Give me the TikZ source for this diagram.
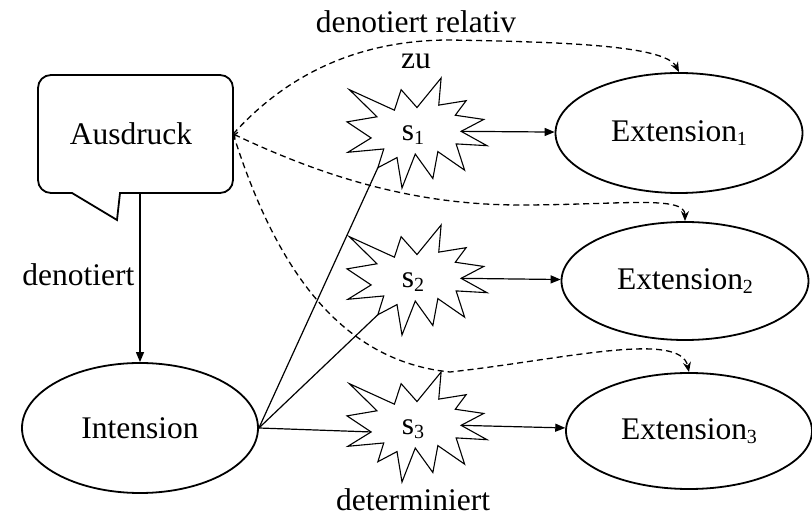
\documentclass[tikz,border=0pt]{standalone}
\usepackage{fontspec}
\setmainfont{Liberation Serif}
\usetikzlibrary{arrows.meta,shapes.geometric}
\newcommand\subsc[1]{\raisebox{-4pt}{\fontsize{20}{20}\selectfont #1}}
\newcommand\explosion[3]{%
  \begin{scope}[shift={(#2,#3)}, x=0.64815pt, y=-0.50926pt]
    \draw[starline] (108,58) -- (145.22,0) -- (141.55,53.25) -- (183.80,44.57) -- (167.02,73.15)
      -- (210.97,81.37) -- (176.07,104.75) -- (216,132.90) -- (168.37,129.42) -- (181.45,180.95)
      -- (140.20,144.57) -- (132.47,197.37) -- (105.32,149.35) -- (84.85,216) -- (77.15,156.27)
      -- (47.62,176.17) -- (56.67,139.37) -- (1.35,145.87) -- (37.22,117.75) -- (0,86.15)
      -- (46.27,76.17) -- (3.70,22.95) -- (73.12,63.20) -- (83.52,22.95) -- cycle;
    \coordinate (#1-in) at (47.62,176.17);
    \coordinate (#1-low) at (37.22,117.75);
    \coordinate (#1-out) at (176.07,104.75);
  \end{scope}}
\begin{document}
\begin{tikzpicture}[x=1pt,y=-1pt,
  txt/.style={font=\fontsize{31.5}{36}\selectfont, inner sep=0pt},
  ell/.style={ellipse, draw, line width=1.8pt, fill=white, inner sep=0pt, txt},
  conn/.style={line width=1.2pt, -{Triangle[length=10pt,width=8pt]}},
  plainconn/.style={line width=1.2pt},
  dconn/.style={line width=1.3pt, dash pattern=on 6pt off 4pt, -{Stealth[length=10pt,width=8pt]}},
  starline/.style={line width=1.1pt, fill=white}]

\useasboundingbox (0,0) rectangle (812,518);

% callout
\draw[line width=1.8pt, fill=white] (72,193) -- (51,193) .. controls (43.8,193) and (38,187.2) .. (38,180)
  -- (38,88) .. controls (38,80.8) and (43.8,75) .. (51,75)
  -- (220,75) .. controls (227.2,75) and (233,80.8) .. (233,88)
  -- (233,180) .. controls (233,187.2) and (227.2,193) .. (220,193)
  -- (120,193) -- (117,220) -- cycle;
\node[rectangle, inner sep=0pt, minimum width=195pt, minimum height=118pt] (aus) at (135.5,134) {};
\node[txt] (austxt) at (131,134) {Ausdruck};

% ellipses
\node[ell, minimum width=236pt, minimum height=130pt] (int) at (140,428) {Intension};
\node[ell, minimum width=247pt, minimum height=120pt] (e1) at (679,133) {Extension\subsc{1}};
\node[ell, minimum width=247pt, minimum height=118pt] (e2) at (685,281) {Extension\subsc{2}};
\node[ell, minimum width=246pt, minimum height=116pt] (e3) at (689,431) {Extension\subsc{3}};

% explosions
\explosion{s1}{347}{78}
\explosion{s2}{347}{225}
\explosion{s3}{347}{372}
\node[txt] (s1) at (413,135) {s\subsc{1}};
\node[txt] (s2) at (413,282) {s\subsc{2}};
\node[txt] (s3) at (413,429) {s\subsc{3}};

% labels
\node[txt, align=center] (lab) at (416,40) {denotiert relativ\\zu};
\node[txt] (det) at (413,500) {determiniert};

% connectors
\draw[conn] (int.north |- aus.south) -- (int.north)
  node[midway, left, txt, xshift=-5pt, yshift=3pt] (den) {denotiert};
\draw[plainconn] (int.east) -- (s1-in);
\draw[plainconn] (int.east) -- (s2-in);
\draw[plainconn] (int.east) -- (s3-low);
\draw[conn] (s1-out) -- (e1);
\draw[conn] (s2-out) -- (e2);
\draw[conn] (s3-out) -- (e3);

\draw[dconn] (aus.east) .. controls (300,60) and (380,40) .. (450,40)
  .. controls (560,42) and (665,45) .. (e1.north);
\draw[dconn, {To[length=4pt,width=8pt]}-{Stealth[length=10pt,width=8pt]}] (aus.east)
  .. controls (330,180) and (420,205) .. (520,205)
  .. controls (620,205) and (685,195) .. (e2.north);
\draw[dconn] (aus.east) .. controls (270,250) and (330,360) .. (450,372)
  .. controls (560,360) and (680,330) .. (e3.north);
\end{tikzpicture}
\end{document}
